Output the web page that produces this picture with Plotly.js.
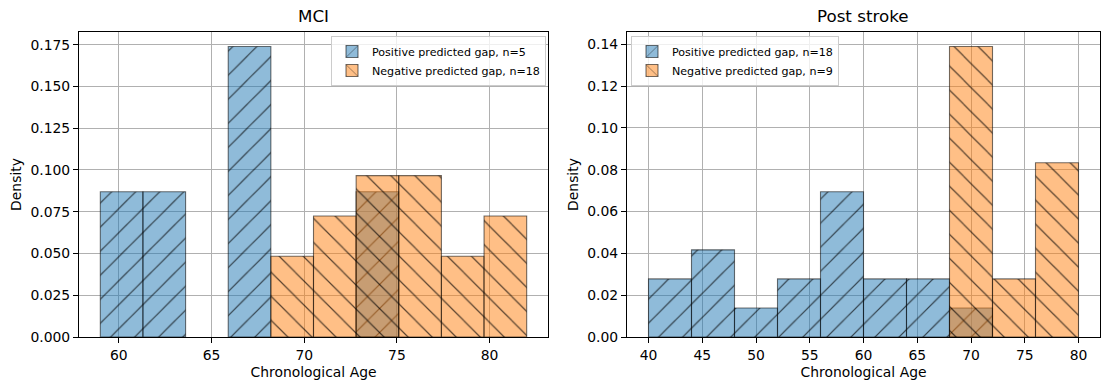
<!DOCTYPE html>
<html>
<head>
<meta charset="utf-8">
<script src="https://cdn.plot.ly/plotly-3.0.1.min.js"></script>
<style>
  html, body { margin: 0; padding: 0; background: #ffffff; }
  #chart { width: 1110px; height: 390px; }
</style>
</head>
<body>
<div id="chart"></div>
<script>
// MCI: ten equal bins from 59 to 82
const mciEdges = [59, 61.3, 63.6, 65.9, 68.2, 70.5, 72.8, 75.1, 77.4, 79.7, 82];
const mciPosCounts = [1, 1, 0, 2, 0, 0, 1, 0, 0, 0];
const mciNegCounts = [0, 0, 0, 0, 2, 3, 4, 4, 2, 3];
const mciPosN = 5;
const mciNegN = 18;

// Post stroke: ten equal bins from 40 to 80
const strokeEdges = [40, 44, 48, 52, 56, 60, 64, 68, 72, 76, 80];
const strokePosCounts = [2, 3, 1, 2, 5, 2, 2, 1, 0, 0];
const strokeNegCounts = [0, 0, 0, 0, 0, 0, 0, 5, 1, 3];
const strokePosN = 18;
const strokeNegN = 9;

const panelTitles = ['MCI', 'Post stroke'];
const xTitle = 'Chronological Age';
const yTitle = 'Density';

// half-transparent fills, darker hatching
const BLUE = 'rgba(31,119,180,0.5)';
const ORANGE = 'rgba(255,127,14,0.5)';
const EDGE = 'rgba(0,0,0,0.55)';
const HATCH = 'rgba(0,0,0,0.65)';
const FONT = 'DejaVu Sans, sans-serif';

// histogram counts -> density bars (count / (n * bin width))
function histBars(edges, counts, n, name, color, shape, xa, ya, legendId) {
  const xs = [], ys = [], ws = [];
  for (let i = 0; i < counts.length; i++) {
    if (counts[i] === 0) continue;
    const w = edges[i + 1] - edges[i];
    xs.push((edges[i] + edges[i + 1]) / 2);
    ws.push(w);
    ys.push(counts[i] / (n * w));
  }
  return {
    type: 'bar', x: xs, y: ys, width: ws,
    name: name, xaxis: xa, yaxis: ya, legend: legendId,
    marker: {
      color: color,
      line: { color: EDGE, width: 1.1 },
      pattern: { shape: shape, bgcolor: color, fgcolor: HATCH, fgopacity: 1,
                 size: 17, solidity: 0.07, fillmode: 'replace' }
    },
    hoverinfo: 'x+y'
  };
}

const traces = [
  histBars(mciEdges, mciPosCounts, mciPosN, 'Positive predicted gap, n=' + mciPosN, BLUE, '/', 'x', 'y', 'legend'),
  histBars(mciEdges, mciNegCounts, mciNegN, 'Negative predicted gap, n=' + mciNegN, ORANGE, '\\', 'x', 'y', 'legend'),
  histBars(strokeEdges, strokePosCounts, strokePosN, 'Positive predicted gap, n=' + strokePosN, BLUE, '/', 'x2', 'y2', 'legend2'),
  histBars(strokeEdges, strokeNegCounts, strokeNegN, 'Negative predicted gap, n=' + strokeNegN, ORANGE, '\\', 'x2', 'y2', 'legend2')
];

const W = 1110, H = 390;
const L1 = 79 / W, R1 = 548 / W, L2 = 627 / W, R2 = 1100 / W;
const B = (H - 337) / H, T = (H - 32) / H;

function axisStyle(extra) {
  return Object.assign({
    showline: true, mirror: true, linecolor: '#000000', linewidth: 1,
    ticks: 'outside', ticklen: 5, tickwidth: 1, tickcolor: '#000000',
    showgrid: true, gridcolor: '#b0b0b0', gridwidth: 1,
    zeroline: false,
    tickfont: { family: FONT, size: 13.9, color: '#000000' }
  }, extra);
}

function dataMax(edges, counts, n) {
  let m = 0;
  for (let i = 0; i < counts.length; i++) {
    m = Math.max(m, counts[i] / (n * (edges[i + 1] - edges[i])));
  }
  return m;
}
const yMax1 = Math.max(dataMax(mciEdges, mciPosCounts, mciPosN), dataMax(mciEdges, mciNegCounts, mciNegN));
const yMax2 = Math.max(dataMax(strokeEdges, strokePosCounts, strokePosN), dataMax(strokeEdges, strokeNegCounts, strokeNegN));
const span1 = mciEdges[mciEdges.length - 1] - mciEdges[0];
const span2 = strokeEdges[strokeEdges.length - 1] - strokeEdges[0];

const axTitleFont = { family: FONT, size: 13.9, color: '#000000' };

const legendStyle = {
  bgcolor: 'rgba(255,255,255,0.8)', bordercolor: '#cccccc', borderwidth: 1,
  font: { family: FONT, size: 11.1, color: '#000000' },
  itemwidth: 30, tracegroupgap: 0
};

const layout = {
  width: W, height: H,
  margin: { l: 0, r: 0, t: 0, b: 0 },
  paper_bgcolor: '#ffffff', plot_bgcolor: '#ffffff',
  barmode: 'overlay', bargap: 0,
  font: { family: FONT, color: '#000000' },
  xaxis: axisStyle({
    domain: [L1, R1], anchor: 'y',
    range: [mciEdges[0] - 0.05 * span1, mciEdges[mciEdges.length - 1] + 0.05 * span1],
    tickmode: 'linear', tick0: 0, dtick: 5,
    title: { text: xTitle, font: axTitleFont, standoff: 5 }
  }),
  yaxis: axisStyle({
    domain: [B, T], anchor: 'x',
    range: [0, yMax1 * 1.05],
    tickmode: 'linear', tick0: 0, dtick: 0.025, tickformat: '.3f',
    title: { text: yTitle, font: axTitleFont, standoff: 5 }
  }),
  xaxis2: axisStyle({
    domain: [L2, R2], anchor: 'y2',
    range: [strokeEdges[0] - 0.05 * span2, strokeEdges[strokeEdges.length - 1] + 0.05 * span2],
    tickmode: 'linear', tick0: 0, dtick: 5,
    title: { text: xTitle, font: axTitleFont, standoff: 5 }
  }),
  yaxis2: axisStyle({
    domain: [B, T], anchor: 'x2',
    range: [0, yMax2 * 1.05],
    tickmode: 'linear', tick0: 0, dtick: 0.02, tickformat: '.2f',
    title: { text: yTitle, font: axTitleFont, standoff: 5 }
  }),
  legend: Object.assign({
    x: 546 / W, y: (H - 36) / H, xanchor: 'right', yanchor: 'top'
  }, legendStyle),
  legend2: Object.assign({
    x: 631 / W, y: (H - 36) / H, xanchor: 'left', yanchor: 'top'
  }, legendStyle),
  annotations: [
    { text: panelTitles[0], xref: 'paper', yref: 'paper', x: (L1 + R1) / 2, y: T,
      xanchor: 'center', yanchor: 'bottom', yshift: 4, showarrow: false,
      font: { family: FONT, size: 16.7, color: '#000000' } },
    { text: panelTitles[1], xref: 'paper', yref: 'paper', x: (L2 + R2) / 2, y: T,
      xanchor: 'center', yanchor: 'bottom', yshift: 4, showarrow: false,
      font: { family: FONT, size: 16.7, color: '#000000' } }
  ]
};

Plotly.newPlot('chart', traces, layout, { displayModeBar: false, staticPlot: true });
</script>
</body>
</html>
